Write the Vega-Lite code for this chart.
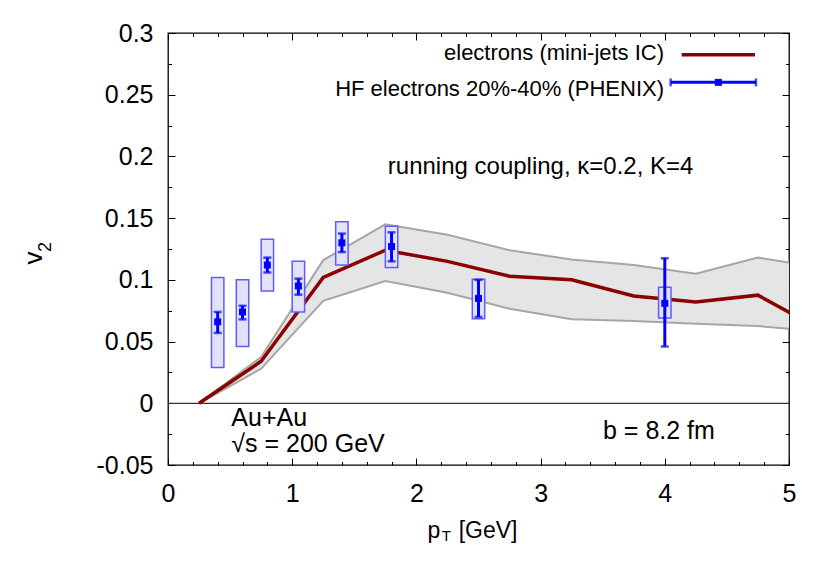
{
  "$schema": "https://vega.github.io/schema/vega-lite/v6.json",
  "width": 621,
  "height": 432,
  "autosize": {"type": "none"},
  "padding": {"left": 168, "top": 33, "right": 41, "bottom": 116},
  "background": "white",
  "data": {"values": [{"note": "annotation"}]},
  "config": {
    "view": {"stroke": "#000", "strokeWidth": 1.3},
    "axis": {"domain": false, "grid": false, "labelFont": "Liberation Sans", "labelFontSize": 25, "labelColor": "#000", "tickColor": "#000", "tickWidth": 1, "title": null},
    "text": {"font": "Liberation Sans", "color": "#000"}
  },
  "datasets": {
    "theory": [
      {"pt": 0.25, "v2": 0.0, "lo": 0.0, "hi": 0.0},
      {"pt": 0.75, "v2": 0.034, "lo": 0.028, "hi": 0.0375},
      {"pt": 1.25, "v2": 0.102, "lo": 0.083, "hi": 0.116},
      {"pt": 1.75, "v2": 0.124, "lo": 0.099, "hi": 0.145},
      {"pt": 2.25, "v2": 0.115, "lo": 0.0896, "hi": 0.1365},
      {"pt": 2.75, "v2": 0.103, "lo": 0.0766, "hi": 0.124},
      {"pt": 3.25, "v2": 0.100, "lo": 0.068, "hi": 0.1165},
      {"pt": 3.75, "v2": 0.087, "lo": 0.0666, "hi": 0.112},
      {"pt": 4.25, "v2": 0.082, "lo": 0.0645, "hi": 0.105},
      {"pt": 4.75, "v2": 0.0876, "lo": 0.0626, "hi": 0.118},
      {"pt": 5.25, "v2": 0.060, "lo": 0.058, "hi": 0.110}
    ],
    "phenix": [
      {"pt": 0.40, "v2": 0.066, "elo": 0.057, "ehi": 0.074, "slo": 0.029, "shi": 0.102, "xlo": 0.35, "xhi": 0.45},
      {"pt": 0.60, "v2": 0.074, "elo": 0.068, "ehi": 0.079, "slo": 0.046, "shi": 0.100, "xlo": 0.55, "xhi": 0.65},
      {"pt": 0.80, "v2": 0.112, "elo": 0.106, "ehi": 0.118, "slo": 0.091, "shi": 0.133, "xlo": 0.75, "xhi": 0.85},
      {"pt": 1.05, "v2": 0.095, "elo": 0.088, "ehi": 0.101, "slo": 0.074, "shi": 0.115, "xlo": 1.00, "xhi": 1.10},
      {"pt": 1.40, "v2": 0.130, "elo": 0.1225, "ehi": 0.1375, "slo": 0.112, "shi": 0.147, "xlo": 1.35, "xhi": 1.45},
      {"pt": 1.80, "v2": 0.127, "elo": 0.115, "ehi": 0.1385, "slo": 0.110, "shi": 0.1435, "xlo": 1.75, "xhi": 1.85},
      {"pt": 2.50, "v2": 0.085, "elo": 0.070, "ehi": 0.100, "slo": 0.0685, "shi": 0.1005, "xlo": 2.45, "xhi": 2.55},
      {"pt": 4.00, "v2": 0.081, "elo": 0.046, "ehi": 0.1175, "slo": 0.069, "shi": 0.094, "xlo": 3.95, "xhi": 4.05}
    ]
  },
  "resolve": {"axis": {"x": "independent", "y": "independent"}},
  "layer": [
    {
      "data": {"name": "theory"},
      "mark": {"type": "area", "color": "#e5e5e5", "opacity": 1, "clip": true},
      "encoding": {
        "x": {"field": "pt", "type": "quantitative", "scale": {"domain": [0, 5], "nice": false, "zero": false},
              "axis": {"orient": "bottom", "values": [0, 1, 2, 3, 4, 5], "ticks": false, "labelPadding": 16, "labelFlush": false}},
        "y": {"field": "lo", "type": "quantitative", "scale": {"domain": [-0.05, 0.3], "nice": false, "zero": false},
              "axis": {"orient": "left", "values": [-0.05, 0, 0.05, 0.1, 0.15, 0.2, 0.25, 0.3], "ticks": false, "labelPadding": 15, "labelExpr": "'' + datum.value", "labelFlush": false}},
        "y2": {"field": "hi"}
      }
    },
    {
      "data": {"name": "theory"},
      "mark": {"type": "line", "color": "#a6a6a6", "strokeWidth": 2, "clip": true},
      "encoding": {
        "x": {"field": "pt", "type": "quantitative", "axis": {"orient": "bottom", "values": [0, 1, 2, 3, 4, 5], "tickSize": -7, "labels": false}},
        "y": {"field": "hi", "type": "quantitative", "axis": {"orient": "left", "values": [-0.05, 0, 0.05, 0.1, 0.15, 0.2, 0.25, 0.3], "tickSize": -7, "labels": false}}
      }
    },
    {
      "data": {"name": "theory"},
      "mark": {"type": "line", "color": "#a6a6a6", "strokeWidth": 2, "clip": true},
      "encoding": {
        "x": {"field": "pt", "type": "quantitative", "axis": {"orient": "bottom", "values": [0.2, 0.4, 0.6, 0.8, 1.2, 1.4, 1.6, 1.8, 2.2, 2.4, 2.6, 2.8, 3.2, 3.4, 3.6, 3.8, 4.2, 4.4, 4.6, 4.8], "tickSize": -3.5, "labels": false}},
        "y": {"field": "lo", "type": "quantitative", "axis": {"orient": "left", "values": [-0.025, 0.025, 0.075, 0.125, 0.175, 0.225, 0.275], "tickSize": -3.5, "labels": false}}
      }
    },
    {
      "mark": {"type": "rule", "color": "#333333", "strokeWidth": 1.3},
      "encoding": {"y": {"datum": 0, "type": "quantitative", "axis": null}}
    },
    {
      "data": {"name": "theory"},
      "mark": {"type": "line", "color": "#8b0000", "strokeWidth": 3.5, "clip": true},
      "encoding": {
        "x": {"field": "pt", "type": "quantitative", "axis": {"orient": "top", "values": [0, 1, 2, 3, 4, 5], "tickSize": -7, "labels": false}},
        "y": {"field": "v2", "type": "quantitative", "axis": {"orient": "right", "values": [-0.05, 0, 0.05, 0.1, 0.15, 0.2, 0.25, 0.3], "tickSize": -7, "labels": false}}
      }
    },
    {
      "data": {"name": "phenix"},
      "mark": {"type": "rect", "fill": "#e2e2fd", "stroke": "#5c5cff", "strokeWidth": 1.5},
      "encoding": {
        "x": {"field": "xlo", "type": "quantitative", "axis": {"orient": "top", "values": [0.2, 0.4, 0.6, 0.8, 1.2, 1.4, 1.6, 1.8, 2.2, 2.4, 2.6, 2.8, 3.2, 3.4, 3.6, 3.8, 4.2, 4.4, 4.6, 4.8], "tickSize": -3.5, "labels": false}},
        "x2": {"field": "xhi"},
        "y": {"field": "slo", "type": "quantitative", "axis": {"orient": "right", "values": [-0.025, 0.025, 0.075, 0.125, 0.175, 0.225, 0.275], "tickSize": -3.5, "labels": false}},
        "y2": {"field": "shi"}
      }
    },
    {
      "data": {"name": "phenix"},
      "mark": {"type": "rule", "color": "#0000ff", "strokeWidth": 3},
      "encoding": {
        "x": {"field": "pt", "type": "quantitative", "axis": null},
        "y": {"field": "elo", "type": "quantitative", "axis": null},
        "y2": {"field": "ehi"}
      }
    },
    {
      "data": {"name": "phenix"},
      "mark": {"type": "tick", "color": "#0000ff", "orient": "horizontal", "size": 8, "thickness": 2.5},
      "encoding": {
        "x": {"field": "pt", "type": "quantitative", "axis": null},
        "y": {"field": "elo", "type": "quantitative", "axis": null}
      }
    },
    {
      "data": {"name": "phenix"},
      "mark": {"type": "tick", "color": "#0000ff", "orient": "horizontal", "size": 8, "thickness": 2.5},
      "encoding": {
        "x": {"field": "pt", "type": "quantitative", "axis": null},
        "y": {"field": "ehi", "type": "quantitative", "axis": null}
      }
    },
    {
      "data": {"name": "phenix"},
      "mark": {"type": "point", "shape": "square", "filled": true, "color": "#0000ff", "opacity": 1, "size": 49},
      "encoding": {
        "x": {"field": "pt", "type": "quantitative", "axis": null},
        "y": {"field": "v2", "type": "quantitative", "axis": null}
      }
    },
    {
      "mark": {"type": "rule", "color": "#8b0000", "strokeWidth": 3.5},
      "encoding": {
        "x": {"datum": 4.136, "type": "quantitative", "axis": null},
        "x2": {"datum": 4.726},
        "y": {"datum": 0.2824, "type": "quantitative", "axis": null}
      }
    },
    {
      "mark": {"type": "rule", "color": "#0000ff", "strokeWidth": 3},
      "encoding": {
        "x": {"datum": 4.047, "type": "quantitative", "axis": null},
        "x2": {"datum": 4.734},
        "y": {"datum": 0.26, "type": "quantitative", "axis": null}
      }
    },
    {
      "mark": {"type": "tick", "color": "#0000ff", "orient": "vertical", "size": 8, "thickness": 2.5},
      "encoding": {
        "x": {"datum": 4.047, "type": "quantitative", "axis": null},
        "y": {"datum": 0.26, "type": "quantitative", "axis": null}
      }
    },
    {
      "mark": {"type": "tick", "color": "#0000ff", "orient": "vertical", "size": 8, "thickness": 2.5},
      "encoding": {
        "x": {"datum": 4.734, "type": "quantitative", "axis": null},
        "y": {"datum": 0.26, "type": "quantitative", "axis": null}
      }
    },
    {
      "mark": {"type": "point", "shape": "square", "filled": true, "color": "#0000ff", "opacity": 1, "size": 49},
      "encoding": {
        "x": {"datum": 4.431, "type": "quantitative", "axis": null},
        "y": {"datum": 0.26, "type": "quantitative", "axis": null}
      }
    },
    {
      "mark": {"type": "text", "text": "electrons (mini-jets IC)", "fontSize": 22, "align": "right", "baseline": "alphabetic"},
      "encoding": {
        "x": {"datum": 3.994, "type": "quantitative", "axis": null},
        "y": {"datum": 0.2783, "type": "quantitative", "axis": null}
      }
    },
    {
      "mark": {"type": "text", "text": "HF electrons 20%-40% (PHENIX)", "fontSize": 22, "align": "right", "baseline": "alphabetic"},
      "encoding": {
        "x": {"datum": 3.994, "type": "quantitative", "axis": null},
        "y": {"datum": 0.2492, "type": "quantitative", "axis": null}
      }
    },
    {
      "mark": {"type": "text", "text": "running coupling, κ=0.2, K=4", "fontSize": 24, "align": "center", "baseline": "alphabetic"},
      "encoding": {
        "x": {"datum": 3.0, "type": "quantitative", "axis": null},
        "y": {"datum": 0.186, "type": "quantitative", "axis": null}
      }
    },
    {
      "mark": {"type": "text", "text": "Au+Au", "fontSize": 25, "align": "left", "baseline": "alphabetic"},
      "encoding": {
        "x": {"datum": 0.51, "type": "quantitative", "axis": null},
        "y": {"datum": -0.018, "type": "quantitative", "axis": null}
      }
    },
    {
      "mark": {"type": "text", "text": "√s = 200 GeV", "fontSize": 25, "align": "left", "baseline": "alphabetic"},
      "encoding": {
        "x": {"datum": 0.51, "type": "quantitative", "axis": null},
        "y": {"datum": -0.0395, "type": "quantitative", "axis": null}
      }
    },
    {
      "mark": {"type": "text", "text": "b = 8.2 fm", "fontSize": 25, "align": "center", "baseline": "alphabetic"},
      "encoding": {
        "x": {"datum": 3.953, "type": "quantitative", "axis": null},
        "y": {"datum": -0.0291, "type": "quantitative", "axis": null}
      }
    },
    {
      "mark": {"type": "text", "text": "p", "fontSize": 23, "align": "left", "baseline": "alphabetic"},
      "encoding": {
        "x": {"datum": 2.089, "type": "quantitative", "axis": null},
        "y": {"datum": -0.1092, "type": "quantitative", "axis": null}
      }
    },
    {
      "mark": {"type": "text", "text": "T", "fontSize": 15, "align": "left", "baseline": "alphabetic"},
      "encoding": {
        "x": {"datum": 2.204, "type": "quantitative", "axis": null},
        "y": {"datum": -0.1117, "type": "quantitative", "axis": null}
      }
    },
    {
      "mark": {"type": "text", "text": "[GeV]", "fontSize": 23, "align": "left", "baseline": "alphabetic"},
      "encoding": {
        "x": {"datum": 2.34, "type": "quantitative", "axis": null},
        "y": {"datum": -0.1092, "type": "quantitative", "axis": null}
      }
    },
    {
      "mark": {"type": "text", "text": "v", "fontSize": 26, "angle": 270, "align": "left", "baseline": "alphabetic"},
      "encoding": {
        "x": {"datum": -1.015, "type": "quantitative", "axis": null},
        "y": {"datum": 0.1125, "type": "quantitative", "axis": null}
      }
    },
    {
      "mark": {"type": "text", "text": "2", "fontSize": 18, "angle": 270, "align": "left", "baseline": "alphabetic"},
      "encoding": {
        "x": {"datum": -0.945, "type": "quantitative", "axis": null},
        "y": {"datum": 0.1225, "type": "quantitative", "axis": null}
      }
    }
  ]
}
